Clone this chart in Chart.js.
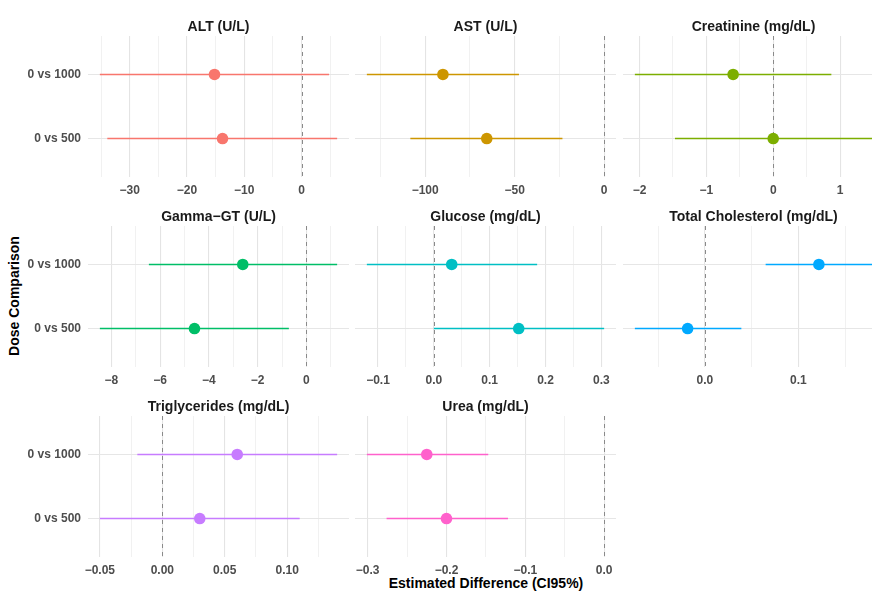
<!DOCTYPE html>
<html>
<head>
<meta charset="utf-8">
<script src="https://cdn.jsdelivr.net/npm/chart.js@4.4.0/dist/chart.umd.min.js"></script>
<style>
  html, body { margin: 0; padding: 0; background: #fff; overflow: hidden; }
  #wrap { position: relative; width: 872px; height: 592px; overflow: hidden; font-family: "Liberation Sans", Arial, sans-serif; }
  #wrap canvas { position: absolute; }
  .axis-title { position: absolute; font-weight: bold; font-size: 14px; line-height: 16px; color: #000; white-space: nowrap; }
</style>
</head>
<body>
<div id="wrap">
  <div class="axis-title" style="left:486px; top:575px; transform:translateX(-50%);">Estimated Difference (CI95%)</div>
  <div class="axis-title" style="left:14px; top:296px; transform:translate(-50%,-50%) rotate(-90deg);">Dose Comparison</div>
</div>
<script>
const comparisons = ['0 vs 1000', '0 vs 500'];
const markers = ['ALT (U/L)', 'AST (U/L)', 'Creatinine (mg/dL)', 'Gamma−GT (U/L)', 'Glucose (mg/dL)',
  'Total Cholesterol (mg/dL)', 'Triglycerides (mg/dL)', 'Urea (mg/dL)'];

// estimate and 95% CI bounds per marker, in the order of `comparisons`
const estimates = [[-15.2, -13.8], [-90.1, -65.6], [-0.6, 0.0], [-2.61, -4.59], [0.032, 0.152],
  [0.122, -0.0185], [0.06, 0.03], [-0.225, -0.2]];
const lowerCI = [[-35.2, -33.9], [-132.6, -108.3], [-2.07, -1.47], [-6.46, -8.47], [-0.12, 0.0],
  [0.065, -0.075], [-0.02, -0.05], [-0.301, -0.276]];
const upperCI = [[4.8, 6.2], [-47.6, -23.3], [0.87, 1.48], [1.26, -0.72], [0.185, 0.305],
  [0.179, 0.039], [0.14, 0.11], [-0.147, -0.122]];

const majorTicks = [[-30, -20, -10, 0], [-100, -50, 0], [-2, -1, 0, 1], [-8, -6, -4, -2, 0],
  [-0.1, 0, 0.1, 0.2, 0.3], [0, 0.1], [-0.05, 0, 0.05, 0.1], [-0.3, -0.2, -0.1, 0]];
const tickLabels = [['−30', '−20', '−10', '0'], ['−100', '−50', '0'], ['−2', '−1', '0', '1'],
  ['−8', '−6', '−4', '−2', '0'], ['−0.1', '0.0', '0.1', '0.2', '0.3'], ['0.0', '0.1'],
  ['−0.05', '0.00', '0.05', '0.10'], ['−0.3', '−0.2', '−0.1', '0.0']];

const colors = ['#F8766D', '#CD9600', '#7CAE00', '#00BE67', '#00BFC4', '#00A9FF', '#C77CFF', '#FF61CC'];

Chart.defaults.font.family = '"Liberation Sans", Arial, sans-serif';

// panel grid (facet_wrap style, 3 columns)
const areaLeft = [88, 355, 623];
const areaTop = [36, 226, 416];
const areaW = 261, areaH = 141, titleH = 28, xAxisH = 24;

// dashed reference line at zero difference
const zeroLine = {
  id: 'zeroLine',
  beforeDatasetsDraw(chart) {
    const { ctx, chartArea, scales } = chart;
    const x = Math.round(scales.x.getPixelForValue(0)) + 0.5;
    ctx.save();
    ctx.strokeStyle = '#8a8a8a';
    ctx.lineWidth = 1;
    ctx.setLineDash([4, 4]);
    ctx.beginPath();
    ctx.moveTo(x, chartArea.top);
    ctx.lineTo(x, chartArea.bottom);
    ctx.stroke();
    ctx.restore();
  }
};

function xRange(i) {
  const lo = Math.min(0, ...lowerCI[i], ...estimates[i]);
  const hi = Math.max(0, ...upperCI[i], ...estimates[i]);
  const pad = (hi - lo) * 0.05;
  return [lo - pad, hi + pad];
}

function gridValues(i, min, max) {
  const major = majorTicks[i];
  const step = major[1] - major[0];
  const vals = [];
  for (let k = -1; k < major.length; k++) {
    const base = k < 0 ? major[0] - step : major[k];
    if (k >= 0) vals.push(base);
    vals.push(base + step / 2);
  }
  return vals.filter(v => v >= min && v <= max).sort((a, b) => a - b);
}

function isMajor(i, v) {
  return majorTicks[i].findIndex(m => Math.abs(m - v) < 1e-9);
}

const wrap = document.getElementById('wrap');

markers.forEach((name, i) => {
  const col = i % 3, row = Math.floor(i / 3);
  const yAxisW = col === 0 ? 88 : 0;
  const canvas = document.createElement('canvas');
  canvas.width = yAxisW + areaW;
  canvas.height = titleH + areaH + xAxisH;
  canvas.style.left = (areaLeft[col] - yAxisW) + 'px';
  canvas.style.top = (areaTop[row] - titleH) + 'px';
  wrap.appendChild(canvas);

  const [xMin, xMax] = xRange(i);
  const rowY = j => comparisons.length - j;

  const pointData = comparisons.map((c, j) => ({ x: estimates[i][j], y: rowY(j) }));
  const datasets = [{
    data: pointData,
    backgroundColor: colors[i],
    borderWidth: 0,
    pointRadius: 5.8,
    pointHoverRadius: 5.8
  }];
  comparisons.forEach((c, j) => {
    datasets.push({
      data: [{ x: lowerCI[i][j], y: rowY(j) }, { x: upperCI[i][j], y: rowY(j) }],
      showLine: true,
      borderColor: colors[i],
      borderWidth: 1.6,
      pointRadius: 0,
      pointHoverRadius: 0
    });
  });

  new Chart(canvas, {
    type: 'scatter',
    data: { datasets },
    plugins: [zeroLine],
    options: {
      responsive: false,
      animation: false,
      events: [],
      layout: { padding: 0, autoPadding: false },
      plugins: {
        legend: { display: false },
        tooltip: { enabled: false },
        title: {
          display: true,
          text: name,
          fullSize: false,
          color: '#1a1a1a',
          font: { size: 14, weight: 'bold' },
          padding: { top: 10.5, bottom: titleH - 16.8 - 10.5 }
        }
      },
      scales: {
        x: {
          type: 'linear',
          min: xMin,
          max: xMax,
          border: { display: false },
          grid: {
            drawTicks: false,
            color: ctx => isMajor(i, ctx.tick.value) >= 0 ? '#e4e4e4' : '#eeeeee',
            lineWidth: ctx => isMajor(i, ctx.tick.value) >= 0 ? 1.1 : 0.8
          },
          ticks: {
            autoSkip: false,
            maxRotation: 0,
            padding: 6,
            color: '#4d4d4d',
            font: { size: 12, weight: 'bold' },
            callback: v => {
              const k = isMajor(i, v);
              return k >= 0 ? tickLabels[i][k] : '';
            }
          },
          afterBuildTicks: axis => {
            axis.ticks = gridValues(i, xMin, xMax).map(v => ({ value: v }));
          },
          afterFit: axis => {
            axis.height = xAxisH;
            axis.paddingLeft = axis.paddingRight = 0;
          }
        },
        y: {
          type: 'linear',
          min: 0.4,
          max: comparisons.length + 0.6,
          border: { display: false },
          grid: { drawTicks: false, color: '#e6e6e6', lineWidth: 1.1 },
          ticks: {
            display: col === 0,
            padding: 7,
            color: '#4d4d4d',
            font: { size: 12, weight: 'bold' },
            callback: v => comparisons[comparisons.length - v]
          },
          afterBuildTicks: axis => {
            axis.ticks = comparisons.map((c, j) => ({ value: rowY(j) })).reverse();
          },
          afterFit: axis => {
            axis.width = yAxisW;
            axis.paddingTop = axis.paddingBottom = 0;
          }
        }
      }
    }
  });
});
</script>
</body>
</html>
